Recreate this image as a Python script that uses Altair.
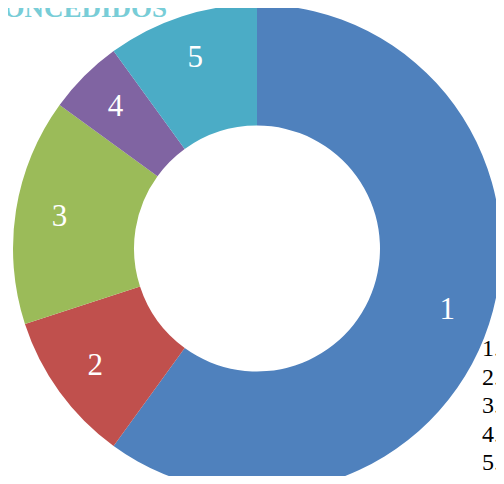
import altair as alt
import pandas as pd

categories = ["1", "2", "3", "4", "5"]
values = [60, 10, 15, 5, 10]
legend_labels = ["1.", "2.", "3.", "4.", "5."]
colors = ["#4F81BD", "#C0504D", "#9BBB59", "#8064A2", "#4BACC6"]
title_text = "CONCEDIDOS"

df = pd.DataFrame({"cat": categories, "value": values, "legend": legend_labels})

CX, CY = 249, 240.5

base = alt.Chart(df).encode(
    theta=alt.Theta("value:Q", stack=True),
    order=alt.Order("cat:N", sort="ascending"),
    x=alt.value(CX),
    y=alt.value(CY),
)

arcs = base.mark_arc(outerRadius=244, innerRadius=123, stroke=None).encode(
    color=alt.Color("cat:N", scale=alt.Scale(domain=categories, range=colors), legend=None)
)

labels = base.mark_text(radius=200, font="Liberation Serif", fontSize=31, color="white").encode(
    text="cat:N"
)

legend = alt.Chart(df).mark_text(
    font="Liberation Serif", fontSize=24, color="black", align="left", baseline="middle"
).encode(
    x=alt.value(474),
    y=alt.Y("cat:N", scale=alt.Scale(type="point", domain=categories, range=[341, 455], padding=0), axis=None),
    text="legend:N",
)

title = alt.Chart(pd.DataFrame({"t": [title_text]})).mark_text(
    font="Liberation Serif", fontSize=27, fontWeight="bold", color="#78CDD7",
    align="right", baseline="alphabetic"
).encode(x=alt.value(159), y=alt.value(9), text="t:N")

chart = alt.layer(arcs, labels, legend, title).properties(
    width=488, height=468,
    autosize=alt.AutoSizeParams(type="none"),
    padding=0,
).configure_view(stroke=None)

chart.save("out.html", embed_options={"renderer": "svg", "actions": False})
